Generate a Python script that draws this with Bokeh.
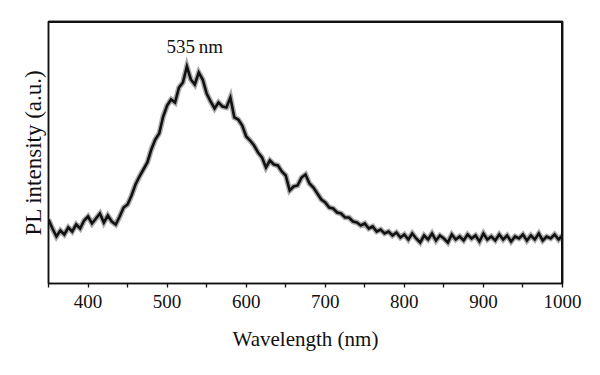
from bokeh.plotting import figure
from bokeh.models import Range1d, FixedTicker, Label, LinearAxis, Span
from bokeh.embed import file_html
from bokeh.resources import INLINE

# Wavelength (nm), 5 nm steps
wavelength = list(range(350, 1005, 5))
# PL intensity (a.u.)
intensity = [
    64, 55, 47, 53, 49, 56, 52, 59, 55, 63,      # 350-395
    67, 60, 65, 70, 61, 68, 62, 59, 67, 76,      # 400-445
    79, 88, 99, 107, 114, 121, 134, 144, 150, 167,  # 450-495
    178, 184, 181, 196, 201, 217, 204, 199, 211, 204,  # 500-545
    190, 182, 175, 181, 177, 176, 186, 166, 164, 158,  # 550-595
    147, 143, 138, 131, 126, 116, 123, 119, 118, 112,  # 600-645
    108, 93, 97, 98, 106, 109, 100, 96, 90, 84,      # 650-695
    81, 76, 75, 71, 70, 66, 66, 62, 61, 58,          # 700-745
    60, 55, 57, 52, 54, 50, 52, 48, 51, 46,          # 750-795
    49, 44, 50, 45, 41, 48, 44, 50, 43, 48,          # 800-845
    45, 41, 49, 44, 47, 43, 49, 45, 48, 42,          # 850-895
    50, 44, 47, 43, 49, 44, 48, 42, 47, 45,          # 900-945
    49, 43, 48, 44, 50, 43, 47, 45, 49, 44,          # 950-995
    48,                                              # 1000
]
x_ticks = list(range(350, 1050, 50))
x_tick_labels = {t: (str(t) if t % 100 == 0 else "") for t in x_ticks}
x_min, x_max = 350, 1000
y_min, y_max = 0, 262
peak_label = "535\u2009nm"
peak_x = 535
peak_y = 237

FONT = "Liberation Serif"
INK = "#111111"

p = figure(width=592, height=367, output_backend="svg", toolbar_location=None,
           x_range=Range1d(x_min, x_max), y_range=Range1d(y_min, y_max),
           x_axis_location=None, y_axis_location=None,
           min_border_left=48, min_border_right=30, min_border_top=21, min_border_bottom=84)

# soft halo of the noisy trace, then the trace
p.line(wavelength, intensity, line_color="#666666", line_alpha=0.55, line_width=5.5, line_join="miter")
p.line(wavelength, intensity, line_color=INK, line_width=2.6, line_join="miter")

p.add_layout(Label(x=peak_x, y=peak_y, text=peak_label, text_align="center",
                   text_baseline="alphabetic", text_font=FONT, text_font_size="19px",
                   text_color=INK))

p.xgrid.visible = False
p.ygrid.visible = False
p.outline_line_color = INK
p.outline_line_width = 1.5

# frame: top and right edges
p.add_layout(Span(location=y_max, dimension="width", line_color=INK, line_width=3))
p.add_layout(Span(location=x_max, dimension="height", line_color=INK, line_width=3))

xa = LinearAxis(ticker=FixedTicker(ticks=x_ticks))
xa.major_label_overrides = x_tick_labels
xa.minor_tick_line_color = None
xa.major_tick_in = 0
xa.major_tick_out = 4
xa.major_tick_line_width = 1.3
xa.axis_line_width = 1.5
xa.axis_line_color = INK
xa.major_tick_line_color = INK
xa.major_label_text_font = FONT
xa.major_label_text_font_size = "19px"
xa.major_label_text_color = INK
xa.major_label_standoff = 7
xa.axis_label = "Wavelength (nm)"
xa.axis_label_text_font = FONT
xa.axis_label_text_font_size = "21px"
xa.axis_label_text_font_style = "normal"
xa.axis_label_text_color = INK
xa.axis_label_standoff = 16
p.add_layout(xa, "below")

ya = LinearAxis(ticker=FixedTicker(ticks=[]))
ya.major_tick_line_color = None
ya.minor_tick_line_color = None
ya.axis_line_width = 1.5
ya.axis_line_color = INK
ya.axis_label = "PL intensity (a.u.)"
ya.axis_label_text_font = FONT
ya.axis_label_text_font_size = "23px"
ya.axis_label_text_font_style = "normal"
ya.axis_label_text_color = INK
ya.axis_label_standoff = 3
p.add_layout(ya, "left")

# bare axis lines on the top and right edges (no tick marks, empty labels)
top_ax = LinearAxis(ticker=FixedTicker(ticks=[x_min, x_max]),
                    major_label_overrides={x_min: "", x_max: ""},
                    major_tick_line_color=None, minor_tick_line_color=None,
                    axis_line_color=INK, axis_line_width=1.5, major_label_standoff=0)
p.add_layout(top_ax, "above")
right_ax = LinearAxis(ticker=FixedTicker(ticks=[y_min, y_max]),
                      major_label_overrides={y_min: "", y_max: ""},
                      major_tick_line_color=None, minor_tick_line_color=None,
                      axis_line_color=INK, axis_line_width=1.5, major_label_standoff=0)
p.add_layout(right_ax, "right")

open("out.html", "w").write(file_html(p, INLINE))
